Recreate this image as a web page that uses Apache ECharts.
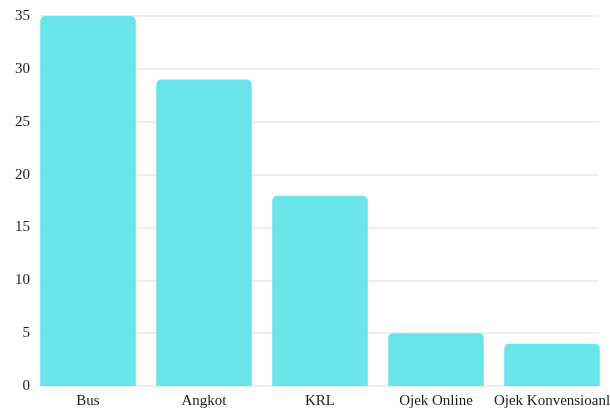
<!DOCTYPE html>
<html>
<head>
<meta charset="utf-8">
<script src="https://cdn.jsdelivr.net/npm/echarts@6/dist/echarts.min.js"></script>
<style>
html,body{margin:0;padding:0;background:#fff;}
#main{width:610px;height:408px;}
</style>
</head>
<body>
<div id="main"></div>
<script>
var categories = ['Bus', 'Angkot', 'KRL', 'Ojek Online', 'Ojek Konvensioanl'];
var values = [35, 29, 18, 5, 4];
var yTicks = [0, 5, 10, 15, 20, 25, 30, 35];

var chart = echarts.init(document.getElementById('main'), null, {renderer: 'canvas'});
var font = '"Liberation Serif", "DejaVu Serif", serif';
chart.setOption({
  animation: false,
  backgroundColor: '#ffffff',
  grid: [
    {left: 30, right: 0, top: 16, bottom: 22, containLabel: false, outerBoundsMode: 'none'},
    {left: 40, right: 11, top: 16, bottom: 22, containLabel: false, outerBoundsMode: 'none'}
  ],
  xAxis: [
    {
      type: 'category', gridIndex: 0, data: categories,
      axisLine: {show: false}, axisTick: {show: false},
      axisLabel: {color: '#1a1a1a', fontFamily: font, fontSize: 15, margin: 8, interval: 0}
    },
    {
      type: 'category', gridIndex: 1, data: categories, show: false
    }
  ],
  yAxis: [
    {
      type: 'value', gridIndex: 0, min: yTicks[0], max: yTicks[yTicks.length - 1], interval: 5,
      splitLine: {show: false}, axisLine: {show: false}, axisTick: {show: false},
      axisLabel: {color: '#1a1a1a', fontFamily: font, fontSize: 15, margin: 0}
    },
    {
      type: 'value', gridIndex: 1, min: yTicks[0], max: yTicks[yTicks.length - 1], interval: 5,
      axisLine: {show: false}, axisTick: {show: false}, axisLabel: {show: false},
      splitLine: {show: true, lineStyle: {color: '#e8e8e8', width: 1.5}}
    }
  ],
  series: [{
    type: 'bar', xAxisIndex: 0, yAxisIndex: 0, data: values,
    barCategoryGap: '17.7%',
    itemStyle: {color: '#68e3e7', borderRadius: [5, 5, 0, 0]}
  }]
});
</script>
</body>
</html>
